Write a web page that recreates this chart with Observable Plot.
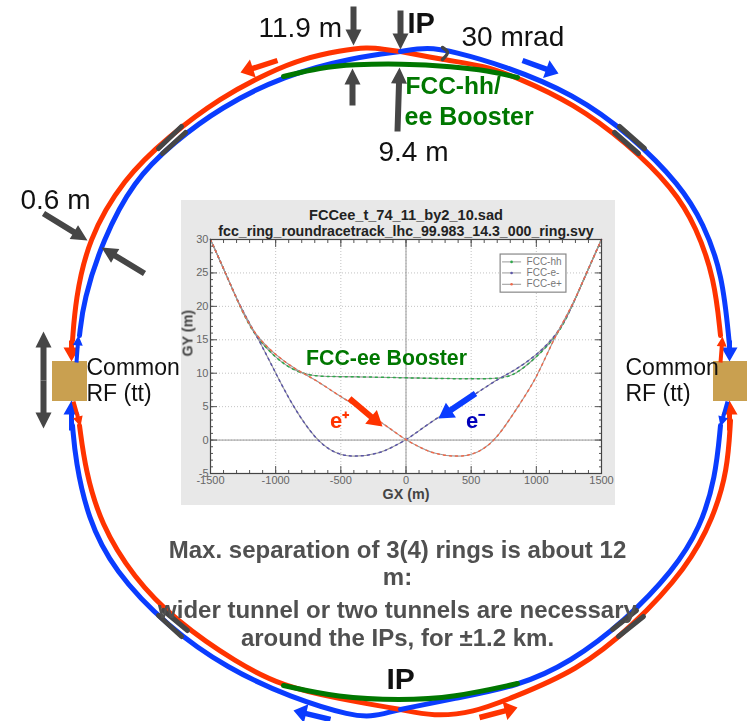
<!DOCTYPE html>
<html><head><meta charset="utf-8">
<script src="https://cdn.jsdelivr.net/npm/d3@7"></script>
<script src="https://cdn.jsdelivr.net/npm/@observablehq/plot@0.6"></script>
<style>
html,body{margin:0;padding:0;background:#fff;}
#stage{position:relative;width:747px;height:721px;overflow:hidden;}
#stage svg{position:absolute;background:transparent;display:block;}
</style></head><body><div id="stage"></div>
<script>
// ---------- Ring diagram values (picture coordinates)
const redTopLeft=[[400,51],[385,49],[367,46.5],[340,50],[303,58],[270,71],[220,97],[168,136],[123,178],[87,240],[75,300],[72,340]];
const blueTopLeft=[[400,51],[353,57],[283,75],[220,107],[173,142],[133,180],[102,240],[83,300],[79,335]];
const blueTopRight=[[400,51],[427,46.5],[453,51],[503,65],[573,93],[632,136],[680,185],[703,223],[722,273],[729,345]];
const redTopRight=[[400,51],[447,60],[483,65],[517,77],[573,103],[626,142],[673,188],[696,227],[714,278],[720,335]];
const redBottomLeft=[[79,425],[85,470],[100,523],[133,577],[175,620],[237,663],[283,686],[337,698],[400,709]];
const blueBottomLeft=[[72,425],[75,460],[87,517],[113,570],[168,627],[227,668],[290,697],[353,716],[373,716],[400,709]];
const blueBottomRight=[[400,709],[453,698],[517,686],[570,662],[625,620],[673,570],[700,527],[715,477],[720,425]];
const redBottomRight=[[400,709],[433,716],[473,712],[510,698],[577,670],[631,627],[687,567],[713,517],[727,470],[730,420]];
const greenTop=[[283,76],[320,67],[353,64],[400,63],[453,66],[487,70],[517,77]];
const greenBottom=[[283,685],[337,697],[400,700],[453,697],[517,683]];
const darkSegments=[[[181,126],[158,148]],[[185,132],[162,153]],[[619,126],[644,148]],[[614,132],[638,153]],[[163,610],[187,630]],[[158,615],[181,636]],[[636,610],[612,629]],[[643,616],[618,636]]];
const angleMark=[[442,47],[447,52],[442,59]];
const rfBoxes=[[52,361,87,401],[713,361,747,401]];
// arrows: from, to, colour, shaft width, head length, head width
const redC="#ff3300",blueC="#0a3cff",greenC="#007700",darkC="#464646";
const arrows=[
 [[353,6],[353,45],darkC,6,16,16],[[352,105],[352,68],darkC,6,16,16],
 [[400,10],[400,49],darkC,6,16,16],[[397,131],[399,67],darkC,6,16,16],
 [[43,213],[87,240],darkC,6,16,16],[[144,273],[101,247],darkC,6,16,16],
 [[43,380],[43,331],darkC,6,16,16],[[43,380],[43,428],darkC,6,16,16],
 [[277,60],[240,72],redC,5.5,13,19],[[522,60],[558,73],blueC,5.5,13,19],
 [[330,719],[293,710],blueC,5.5,13,19],[[479,717],[517,707],redC,5.5,13,19],
 [[71,340],[71,361],redC,5,14,16],[[76,362],[78,335],blueC,4,10,10],
 [[71,430],[71,400],blueC,5,14,16],[[73,401],[80,426],redC,4,10,10],
 [[729,340],[729,361],blueC,5,14,16],[[720,362],[722,336],redC,4,10,10],
 [[729,430],[729,400],redC,5,14,16],[[727,401],[720,426],blueC,4,10,10]
];
const insetArrows=[[[349,398],[382,426],redC,6,15,18],[[475,393],[438,418],blueC,6,15,18]];
const labels=[
 ["11.9 m",258,36,28,"start",false,"#111"],["IP",407,32,29,"start",true,"#111"],["30 mrad",461,45,28,"start",false,"#111"],
 ["FCC-hh/",405,93,24.5,"start",true,greenC],["ee Booster",404,124,25,"start",true,greenC],["9.4 m",378,160,28,"start",false,"#111"],
 ["0.6 m",20,208,28,"start",false,"#111"],["Common",86,374,23,"start",false,"#111"],["RF (tt)",86,400,23,"start",false,"#111"],
 ["Common",625,374,23,"start",false,"#111"],["RF (tt)",625,400,23,"start",false,"#111"],["IP",386,688,30,"start",true,"#111"],
 ["Max. separation of 3(4) rings is about 12",397,557,24,"middle",true,"#505050"],["m:",397,584,24,"middle",true,"#505050"],
 ["wider tunnel or two tunnels are necessary",397,617,24,"middle",true,"#505050"],["around the IPs, for ±1.2 km.",397,645,24,"middle",true,"#505050"]
];
const insetLabels=[
 ["FCC-ee Booster",386,364,21.3,"middle",true,greenC],["e⁺",339,427,22,"middle",true,redC],["e⁻",475,427,22,"middle",true,"#0000bb"]
];
// ---------- Inset plot values
const gxHH=[-1500,-1385,-1275,-1167,-1000,-885,-730,-500,-200,0,300,700,833,987,1167,1275,1385,1500];
const gyHH=[30,25,20,15.7,12.3,10.65,9.5,9.5,9.4,9.3,9.2,9.1,9.65,12.15,15.65,20,25,30];
const gxEm=[-1500,-1385,-1275,-1128,-1000,-867,-692,-550,-400,-200,-100,0,100,243,551,705,833,1000,1167,1275,1385,1500];
const gyEm=[30,25,20,15,10,5,0,-2,-2.6,-2,-1,0,1.4,3.4,7.1,9.15,10.4,12.65,15.9,20,25,30];
const gxEp=[-1500,-1385,-1275,-1167,-1000,-833,-705,-551,-243,-100,0,100,200,400,550,692,859,1000,1128,1275,1385,1500];
const gyEp=[30,25,20,15.9,12.65,10.4,9.15,7.1,3.4,1.4,0,-1,-2,-2.6,-2,0,5,9.15,15,20,25,30];
const xMajor=[-1500,-1000,-500,0,500,1000,1500];
const yMajor=[-5,0,5,10,15,20,25,30];
const xMinor=d3.range(-1500,1501,100);
const yMinor=d3.range(-5,31,1);
const legendEntries=[["FCC-hh","#2ea84a",26.65],["FCC-e-","#5b55a8",25],["FCC-e+","#f0694a",23.3]];
const insetTitles=["FCCee_t_74_11_by2_10.sad","fcc_ring_roundracetrack_lhc_99.983_14.3_000_ring.svy"];

// ---------- helpers
const stage=document.getElementById("stage");
const ff="Liberation Sans, Arial, sans-serif";
function identity(marks){
  return Plot.plot({width:747,height:721,margin:0,x:{domain:[0,747],axis:null},y:{domain:[721,0],axis:null},style:{background:"transparent",fontFamily:ff},marks});
}
function ringLine(pts,color,w){
  return Plot.line(pts,{x:d=>d[0],y:d=>d[1],stroke:color,strokeWidth:w,curve:"basis"});
}
function arrowMarks(list){
  const polys=[];
  list.forEach(([a,b,c,sw,hl,hw],i)=>{
    const dx=b[0]-a[0],dy=b[1]-a[1],L=Math.hypot(dx,dy),ux=dx/L,uy=dy/L,nx=-uy,ny=ux;
    const bx=b[0]-ux*hl,by=b[1]-uy*hl;
    const p=[[a[0]+nx*sw/2,a[1]+ny*sw/2],[bx+nx*sw/2,by+ny*sw/2],[bx+nx*hw/2,by+ny*hw/2],b,[bx-nx*hw/2,by-ny*hw/2],[bx-nx*sw/2,by-ny*sw/2],[a[0]-nx*sw/2,a[1]-ny*sw/2]];
    p.forEach(q=>polys.push({x:q[0],y:q[1],id:i,c}));
  });
  return Plot.line(polys,{x:"x",y:"y",z:"id",fill:"c",stroke:"none",curve:"linear-closed"});
}
function textMarks(list){
  return list.map(([t,x,y,s,a,b,c])=>Plot.text([t],{x:()=>x,y:()=>y,text:d=>d,fontSize:s,textAnchor:a,fontWeight:b?"bold":"normal",fill:c,lineAnchor:"bottom",fontFamily:ff}));
}

// ---------- inset
const mk=(gx,gy)=>gx.map((x,i)=>({x,y:gy[i]}));
const sHH=mk(gxHH,gyHH),sEm=mk(gxEm,gyEm),sEp=mk(gxEp,gyEp);
const series=(d,c)=>[
  Plot.line(d,{x:"x",y:"y",stroke:"#9a9a9a",strokeWidth:1.1,curve:"basis"}),
  Plot.line(d,{x:"x",y:"y",stroke:c,strokeWidth:1.5,strokeDasharray:"2 4",curve:"basis"})
];
const tickOnly={text:null,label:null,stroke:"#555"};
const inset=Plot.plot({
  width:434,height:305,marginLeft:29,marginRight:14,marginTop:39,marginBottom:32,
  x:{domain:[-1500,1500],axis:null},y:{domain:[-5,30],axis:null},
  style:{background:"#e8e8e8",fontFamily:ff,overflow:"visible"},
  marks:[
    Plot.frame({fill:"white"}),
    Plot.gridX(xMajor,{stroke:"#aaa",strokeOpacity:0.7,strokeDasharray:"1 2"}),
    Plot.gridY(yMajor,{stroke:"#aaa",strokeOpacity:0.7,strokeDasharray:"1 2"}),
    Plot.ruleX([0],{stroke:"#999"}),Plot.ruleY([0],{stroke:"#999"}),
    ...series(sHH,"#2ea84a"),...series(sEm,"#5b55a8"),...series(sEp,"#f0694a"),
    Plot.rect([0],{x1:()=>726,x2:()=>1231,y1:()=>27.75,y2:()=>22.05,fill:"white",stroke:"#888",strokeWidth:1.2}),
    ...legendEntries.flatMap(([t,c,y])=>[
      Plot.line([740,880],{x:d=>d,y:()=>y,stroke:"#999",strokeWidth:1}),
      Plot.dot([810],{x:d=>d,y:()=>y,r:1.3,fill:c}),
      Plot.text([t],{x:()=>925,y:()=>y,text:d=>d,textAnchor:"start",fontSize:10,fill:"#777"})
    ]),
    Plot.axisX({anchor:"bottom",ticks:xMajor,tickSize:-7,tickPadding:10,label:null,tickFormat:d=>String(d),stroke:"#555",color:"#666",fontSize:11}),
    Plot.axisX({anchor:"bottom",ticks:xMinor,tickSize:-3,...tickOnly}),
    Plot.axisX({anchor:"top",ticks:xMajor,tickSize:-7,...tickOnly}),
    Plot.axisX({anchor:"top",ticks:xMinor,tickSize:-3,...tickOnly}),
    Plot.axisY({anchor:"left",ticks:yMajor,tickSize:-7,tickPadding:9,label:null,tickFormat:d=>String(d),stroke:"#555",color:"#666",fontSize:11}),
    Plot.axisY({anchor:"left",ticks:yMinor,tickSize:-3,...tickOnly}),
    Plot.axisY({anchor:"right",ticks:yMajor,tickSize:-7,...tickOnly}),
    Plot.axisY({anchor:"right",ticks:yMinor,tickSize:-3,...tickOnly}),
    Plot.frame({stroke:"#444",strokeWidth:1.2}),
    Plot.text([insetTitles[0]],{frameAnchor:"top",lineAnchor:"bottom",text:d=>d,dy:-20,fontSize:14.6,fontWeight:"bold",fill:"#222"}),
    Plot.text([insetTitles[1]],{frameAnchor:"top",lineAnchor:"bottom",text:d=>d,dy:-4,fontSize:14.2,fontWeight:"bold",fill:"#222"}),
    Plot.text(["GX (m)"],{frameAnchor:"bottom",text:d=>d,dy:25,fontSize:14.3,fontWeight:"bold",fill:"#444"}),
    Plot.text(["GY (m)"],{frameAnchor:"left",text:d=>d,dx:-23,rotate:-90,fontSize:14.3,fontWeight:"bold",fill:"#444"})
  ]
});
inset.style.left="181px";inset.style.top="200px";inset.style.filter="blur(0.45px)";
stage.appendChild(inset);

// ---------- inset annotations
const note=identity([...textMarks(insetLabels),arrowMarks(insetArrows)]);
note.style.left="0";note.style.top="0";note.style.filter="blur(0.35px)";
stage.appendChild(note);

// ---------- main diagram
const main=identity([
  ringLine(blueBottomLeft,blueC,5),ringLine(redBottomLeft,redC,5),
  ringLine(redBottomRight,redC,5),ringLine(blueBottomRight,blueC,5),
  ringLine(blueTopLeft,blueC,5),ringLine(redTopLeft,redC,5),
  ringLine(redTopRight,redC,5),ringLine(blueTopRight,blueC,5),
  ringLine(greenTop,greenC,5),ringLine(greenBottom,greenC,5),
  ...darkSegments.map(s=>Plot.line(s,{x:d=>d[0],y:d=>d[1],stroke:darkC,strokeWidth:5})),
  Plot.line(angleMark,{x:d=>d[0],y:d=>d[1],stroke:darkC,strokeWidth:3.5,curve:"catmull-rom"}),
  Plot.rect(rfBoxes,{x1:d=>d[0],y1:d=>d[1],x2:d=>d[2],y2:d=>d[3],fill:"#c9a050"}),
  arrowMarks(arrows),
  ...textMarks(labels)
]);
main.style.left="0";main.style.top="0";
stage.appendChild(main);
</script></body></html>
